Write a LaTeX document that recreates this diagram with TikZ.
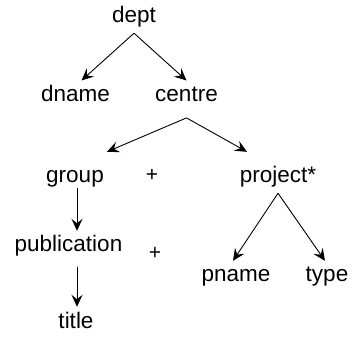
\documentclass[tikz,border=0pt]{standalone}
\usepackage{fontspec}
\setmainfont{Liberation Sans}
\usetikzlibrary{arrows.meta,positioning,calc}

\tikzset{
    tag/.style={anchor=base, inner sep=5pt, text height=16pt, text depth=5pt, font=\fontsize{22.5}{26}\selectfont},
    plus/.style={inner sep=0pt, font=\fontsize{21}{24}\selectfont},
    arr/.style={-{Stealth[length=12pt, width=11pt, inset=4.5pt]}, line width=0.9pt}
}

\begin{document}
\begin{tikzpicture}[x=1pt, y=1pt]
    \useasboundingbox (0,0) rectangle (352,336);

    % Root
    \node[tag] (dept) at (134, 313) {dept};
    \node[tag] (dname) at (75.5, 234.3) {dname};
    \node[tag] (centre) at (186.5, 234.3) {centre};
    \draw[arr] (dept.south) -- ([xshift=6pt]dname.north);
    \draw[arr] (dept.south) -- (centre.north);

    % Centre
    \node[tag] (group) at (75, 153) {group};
    \node[plus] (plusA) at (152, 161) {+};
    \node[tag] (project) at (278, 153) {project*};
    \draw[arr] ([yshift=-6pt]centre.south) -- ([shift={(32pt,10pt)}]group.north);
    \draw[arr] ([yshift=-6pt]centre.south) -- ([shift={(-31pt,10pt)}]project.north);

    % Group
    \node[tag] (publication) at (68.5, 84) {publication};
    \node[plus] (plusB) at (155, 83) {+};
    \node[tag] (title) at (76, 8) {title};
    \draw[arr] ([shift={(2pt,5pt)}]group.south) -- ([xshift=2pt]group.south |- publication.north);
    \draw[arr] ([shift={(1pt,-5pt)}]publication.south -| title.north) -- ([xshift=1pt]title.north);

    % Project
    \node[tag] (pname) at (236, 54) {pname};
    \node[tag] (type) at (327, 54) {type};
    \draw[arr] (project.south) -- ([xshift=-3pt]pname.north);
    \draw[arr] (project.south) -- ([xshift=-2pt]type.north);
\end{tikzpicture}
\end{document}
